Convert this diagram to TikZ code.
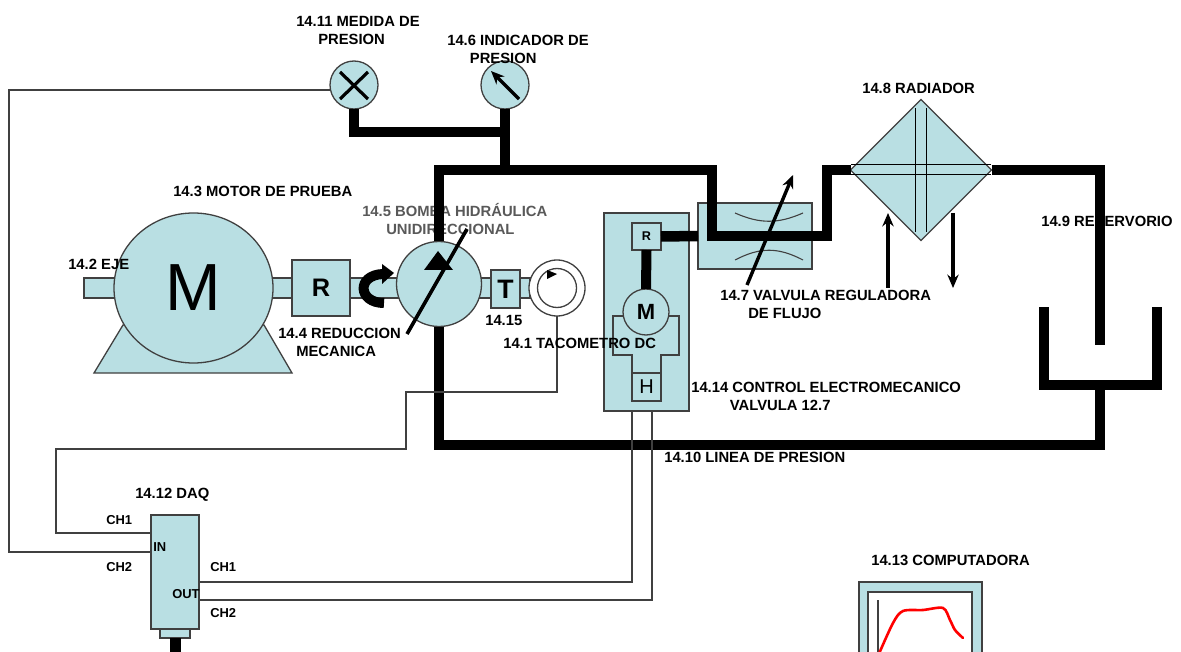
\documentclass[tikz,border=0pt]{standalone}
\usepackage{fontspec}
\setmainfont{Liberation Sans}
\usepackage{xcolor}
\usetikzlibrary{shapes.geometric, arrows.meta, calc}
\definecolor{rigfill}{HTML}{B9DFE3}
\definecolor{rigline}{HTML}{404040}
\definecolor{riggray}{HTML}{595959}
\def\px{0.75pt}
\tikzset{
    rig/.style={draw=rigline, line width=1.3*\px, fill=rigfill, inner sep=0pt, outer sep=0pt},
    sized/.style 2 args={minimum width=#1*\px, minimum height=#2*\px},
    dial/.style={rig, circle, minimum size=#1*\px},
    pipe/.style={line width=10.5*\px, line join=miter},
    wire/.style={draw=rigline, line width=1.1*\px},
    pointer/.style={line width=3.4*\px, -{Stealth[length=10pt, width=8.5pt]}},
    lbl/.style={font=\fontsize{11.1}{13.5}\selectfont\bfseries, inner sep=0pt, align=left, anchor=west},
    lblsmall/.style={lbl, font=\fontsize{9.7}{12}\selectfont\bfseries},
}

\begin{document}
\begin{tikzpicture}[x=\px, y=-\px]
    \clip (0,0) rectangle (1181,652);

    % Gray label stays under the pipe
    \node[lbl, riggray] (lblpump) at (362,219) {14.5 BOMBA HIDRÁULICA\\\hspace*{18pt}UNIDIRECCIONAL};

    % Shaft and motor
    \node[rig, sized={446}{20}] (shaft) at (307,288) {};
    \draw[rig] (94,373) -- (123,325) -- (264,325) -- (292,373) -- cycle;
    \node[rig, ellipse, sized={159}{150}, font=\fontsize{50}{50}\selectfont] (motor) at (193.5,288) {M};
    \node[rig, sized={58}{56}, font=\fontsize{19}{19}\selectfont\bfseries] (gear) at (321,288) {R};

    % Rotation mark
    \draw[line width=10*\px] (384,303) .. controls (358,303) and (356,275) .. (383,274);
    \fill (382,264) -- (394,273) -- (382,284) -- cycle;

    % Pump
    \node[dial=85] (pump) at (439,284) {};
    \fill (438,251) -- (453,270) -- (424,270) -- cycle;
    \draw[line width=3.6*\px] (407,334) -- (467,229);

    % Tachometer
    \node[rig, sized={29}{38}, font=\fontsize{20}{20}\selectfont\bfseries] (tbox) at (505.5,289) {T};
    \node[draw=rigline, line width=1.3*\px, fill=white, circle, minimum size=56*\px, inner sep=0pt, outer sep=0pt] (tacho) at (557,288) {};
    \node[draw=rigline, line width=1.3*\px, circle, minimum size=39*\px, inner sep=0pt] (tachoin) at (557,288) {};
    \fill (547,270) -- (557,274) -- (547,279) -- cycle;

    % Pressure gauges
    \node[dial=48] (gaugex) at (354,85) {};
    \node[dial=48] (gaugearrow) at (505,85) {};
    \draw[line width=3.2*\px] (340,72) -- (368,99);
    \draw[line width=3.2*\px] (368,72) -- (340,99);
    \draw[pointer] (519,99) -- (491,71);

    % Flow valve box
    \node[rig, sized={114}{66}] (valve) at (755,236) {};
    \draw[rigline, line width=1.1*\px] (735,213) .. controls (760,224) and (778,224) .. (803,213);
    \draw[rigline, line width=1.1*\px] (735,260) .. controls (760,247) and (778,247) .. (803,260);

    % Radiator
    \node[rig, diamond, aspect=1, minimum size=141*\px] (radiator) at (921,170) {};
    \draw[line width=1*\px] (915,108) -- (915,232);
    \draw[line width=1*\px] (926,108) -- (926,232);
    \draw[line width=1*\px] (851,165) -- (991,165);
    \draw[line width=1*\px] (851,175) -- (991,175);
    \draw[pointer] (888,288) -- (888,213);
    \draw[pointer] (953,213) -- (953,288);

    % Electromechanical control
    \node[rig, sized={85}{198}] (ctrl) at (646.5,312) {};
    \draw[rigline, line width=1.1*\px] (632,373) -- (632,355) -- (613,355) -- (613,316) -- (679,316) -- (679,355) -- (661,355) -- (661,373);
    \node[rig, sized={29}{27}, font=\fontsize{9.5}{10}\selectfont\bfseries] (ctrlr) at (646.5,236.5) {R};
    \node[dial=46, font=\fontsize{16.5}{17}\selectfont\bfseries] (ctrlm) at (646,312) {M};
    \node[rig, sized={29}{28}, font=\fontsize{15}{15}\selectfont] (ctrlh) at (646.5,387) {H};
    \draw[line width=10*\px] (ctrlr.south) -- (ctrlm.north);

    % DAQ
    \node[rig, sized={48}{114}] (daq) at (175,572) {};
    \node[rig, sized={30}{9}, anchor=north] (daqfoot) at (daq.south) {};
    \coordinate (daqend) at (175,660);
    \draw[line width=11*\px] (daqfoot.south) -- (daqend);

    % Computer
    \node[rig, sized={123}{116}] (screen) at (920.5,640) {};
    \node[draw=rigline, line width=1.3*\px, fill=white, sized={104}{116}, inner sep=0pt, outer sep=0pt] (screenin) at (920,650) {};
    \draw[rigline, line width=1.5*\px] (878,600) -- (878,660);
    \draw[red, line width=2.6*\px, line cap=round] plot[smooth] coordinates {(878,656) (893,623) (903,611) (923,610) (943,608) (950,620) (955,630) (963,638)};

    % Pipe corners
    \coordinate (looptl) at (439,170);
    \coordinate (loopbl) at (439,445);
    \coordinate (loopbr) at (1100,445);
    \coordinate (looptr) at (1100,170);
    \coordinate (tankin) at (1100,345);
    \coordinate (tanka) at (1044,307);
    \coordinate (tankb) at (1157,307);
    \coordinate (tankl) at (1044,385);
    \coordinate (tankr) at (1157,385);
    \coordinate (tankout) at (1100,385);
    \coordinate (gaugejoin) at (505,132);
    \coordinate (valvea) at (712,236);
    \coordinate (valveb) at (827,236);

    % Hydraulic circuit
    \draw[pipe] (pump.north) -- (looptl) -- (712,170) -- (valvea) -- (valveb) -- (827,170) -- (radiator.west);
    \draw[pipe] (radiator.east) -- (looptr) -- (tankin);
    \draw[pipe] (pump.south) -- (loopbl) -- (loopbr) -- (tankout);
    \draw[pipe] (tanka) -- (tankl) -- (tankr) -- (tankb);
    \draw[pipe] (gaugex.south) |- (gaugejoin);
    \draw[pipe] (gaugearrow.south) -- (505,170);
    \draw[pipe] (ctrlr.east) -- (valve.west);
    \draw[pointer] (747,285) -- (793,175);

    % Signal wires
    \coordinate (gaugexin) at (331,90);
    \coordinate (daqinA) at (151,533);
    \coordinate (daqinB) at (151,552);
    \coordinate (daqoutA) at (199,582);
    \coordinate (daqoutB) at (199,600);
    \coordinate (ctrlA) at (632,411);
    \coordinate (ctrlB) at (652,411);
    \draw[wire] (tacho.south) -- (557,392) -- (406,392) -- (406,449) -- (56,449) -- (56,533) -- (daqinA);
    \draw[wire] (gaugexin) -- (9,90) -- (9,552) -- (daqinB);
    \draw[wire] (daqoutA) -| (ctrlA);
    \draw[wire] (daqoutB) -| (ctrlB);

    % Labels
    \node[lbl] (lblgaugex) at (296,30) {14.11 MEDIDA DE\\\hspace*{16.5pt}PRESION};
    \node[lbl] (lblgaugearrow) at (447,49) {14.6 INDICADOR DE\\\hspace*{17pt}PRESION};
    \node[lbl] (lblradiator) at (862,88) {14.8 RADIADOR};
    \node[lbl] (lblmotor) at (173,191) {14.3 MOTOR DE PRUEBA};
    \node[lbl] (lblshaft) at (68,264) {14.2 EJE};
    \node[lbl] (lblgear) at (278,342) {14.4 REDUCCION\\\hspace*{13.5pt}MECANICA};
    \node[lbl] (lbltbox) at (485,320) {14.15};
    \node[lbl] (lbltacho) at (503,343) {14.1 TACOMETRO DC};
    \node[lbl] (lblvalve) at (720,304) {14.7 VALVULA REGULADORA\\\hspace*{21pt}DE FLUJO};
    \node[lbl] (lblctrl) at (691,396) {14.14 CONTROL ELECTROMECANICO\\\hspace*{29pt}VALVULA 12.7};
    \node[lbl] (lblline) at (664,457) {14.10 LINEA DE PRESION};
    \node[lbl] (lbltank) at (1041,221) {14.9 RESERVORIO};
    \node[lbl] (lbldaq) at (135,495) {14.12 DAQ};
    \node[lbl] (lblcomp) at (871,560) {14.13 COMPUTADORA};
    \node[lblsmall] (chinA) at (106,520) {CH1};
    \node[lblsmall] (chinB) at (106,567) {CH2};
    \node[lblsmall] (choutA) at (210,567) {CH1};
    \node[lblsmall] (choutB) at (210,613) {CH2};
    \node[lblsmall] (lblin) at (153,547) {IN};
    \node[lblsmall] (lblout) at (172,594) {OUT};
\end{tikzpicture}
\end{document}
